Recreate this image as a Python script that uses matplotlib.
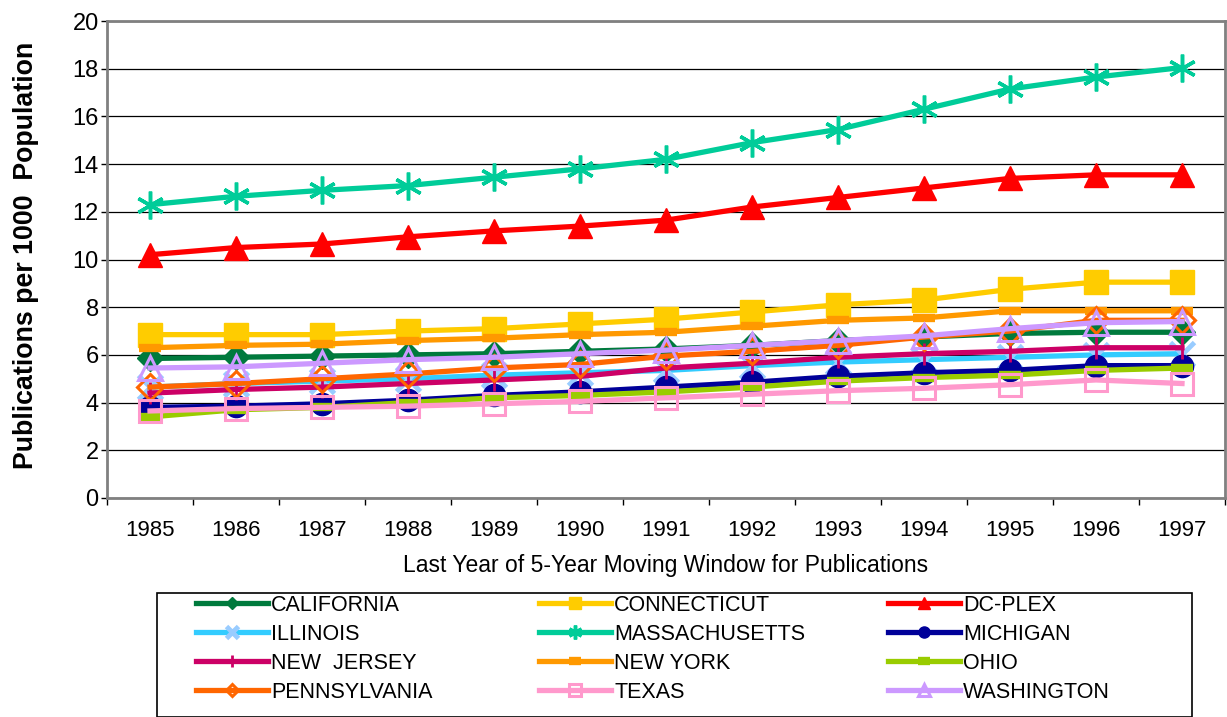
import matplotlib
matplotlib.use("Agg")
import matplotlib.pyplot as plt
from matplotlib.patches import Rectangle

plt.rcParams['font.family'] = ['Liberation Sans', 'DejaVu Sans']

# datos
years = list(range(1985, 1998))

california = [5.85, 5.9, 5.95, 6.0, 6.05, 6.15, 6.25, 6.4, 6.6, 6.75, 6.9, 6.95, 6.95]
connecticut = [6.85, 6.85, 6.85, 7.0, 7.1, 7.3, 7.5, 7.8, 8.1, 8.3, 8.75, 9.05, 9.05]
dc_plex = [10.2, 10.5, 10.65, 10.95, 11.2, 11.4, 11.65, 12.2, 12.6, 13.0, 13.4, 13.55, 13.55]
illinois = [4.65, 4.8, 4.9, 5.0, 5.15, 5.25, 5.35, 5.55, 5.7, 5.8, 5.9, 6.0, 6.05]
massachusetts = [12.3, 12.65, 12.9, 13.1, 13.45, 13.8, 14.2, 14.9, 15.45, 16.3, 17.15, 17.65, 18.05]
michigan = [3.8, 3.85, 3.95, 4.1, 4.3, 4.45, 4.65, 4.85, 5.1, 5.25, 5.35, 5.55, 5.55]
new_jersey = [4.4, 4.55, 4.65, 4.8, 4.95, 5.1, 5.45, 5.65, 5.9, 6.05, 6.15, 6.3, 6.3]
new_york = [6.3, 6.4, 6.45, 6.6, 6.7, 6.85, 6.95, 7.2, 7.45, 7.55, 7.85, 7.85, 7.85]
ohio = [3.4, 3.7, 3.8, 4.0, 4.2, 4.3, 4.45, 4.65, 4.9, 5.05, 5.15, 5.35, 5.45]
pennsylvania = [4.65, 4.8, 5.0, 5.2, 5.45, 5.6, 5.95, 6.15, 6.4, 6.75, 7.0, 7.45, 7.45]
texas = [3.65, 3.75, 3.8, 3.85, 3.95, 4.05, 4.2, 4.35, 4.5, 4.6, 4.75, 4.95, 4.8]
washington = [5.45, 5.5, 5.65, 5.8, 5.9, 6.05, 6.2, 6.4, 6.6, 6.8, 7.1, 7.35, 7.4]

names = ["CALIFORNIA", "CONNECTICUT", "DC-PLEX", "ILLINOIS", "MASSACHUSETTS", "MICHIGAN",
         "NEW  JERSEY", "NEW YORK", "OHIO", "PENNSYLVANIA", "TEXAS", "WASHINGTON"]
series = [california, connecticut, dc_plex, illinois, massachusetts, michigan,
          new_jersey, new_york, ohio, pennsylvania, texas, washington]

# estilo de cada serie: color, marcador, tamano, relleno, grosor borde
styles = [
    ('#007A3D', 'D', 13, None, 1.0),
    ('#FFCC00', 's', 17, None, 1.0),
    ('#FF0000', '^', 17, None, 1.0),
    ('#33CCFF', 'x', 17, None, 3.5),
    ('#00CC99', (6, 2, 0), 20, None, 2.5),
    ('#000099', 'o', 16, None, 1.0),
    ('#CC0066', '|', 16, None, 2.0),
    ('#FF9900', '_', 16, None, 6.0),
    ('#99CC00', '_', 16, None, 6.0),
    ('#FF6600', 'D', 13, 'none', 2.2),
    ('#FF99CC', 's', 16, 'none', 2.2),
    ('#CC99FF', '^', 17, 'none', 2.2),
]

W, H = 1227, 717
fig = plt.figure(figsize=(W / 100, H / 100), dpi=100)
ax = fig.add_axes([107 / W, 1 - 498 / H, 1118 / W, 477 / H])

handles = []
for name, vals, (col, mk, ms, mfc, mew) in zip(names, series, styles):
    mec = '#99CCFF' if name == "ILLINOIS" else col
    ln, = ax.plot(years, vals, color=col, lw=3.8, marker=mk, markersize=ms,
                  markerfacecolor=mfc if mfc else col, markeredgecolor=mec,
                  markeredgewidth=mew, clip_on=False)
    handles.append(ln)

ax.set_xlim(1984.5, 1997.5)
ax.set_ylim(0, 20)
ax.set_yticks(range(0, 21, 2))
ax.set_xticks(years)
ax.set_xticks([y - 0.5 for y in years] + [1997.5], minor=True)
ax.tick_params(axis='x', which='major', length=0, pad=16, labelsize=16)
ax.tick_params(axis='x', which='minor', length=5, width=1, color='black', direction='out')
ax.tick_params(axis='y', length=4, width=1, pad=2, labelsize=17)

ax.yaxis.grid(True, color='black', lw=0.9)
ax.set_axisbelow(True)
for s in ax.spines.values():
    s.set_color('#808080')
    s.set_linewidth(2)

ax.set_xlabel('Last Year of 5-Year Moving Window for Publications', fontsize=16.5, labelpad=9)
ax.set_ylabel('Publications per 1000  Population', fontsize=19.3, fontweight='bold')
ax.yaxis.set_label_coords(-0.061, 0.509)

# leyenda: marco aparte y tres columnas colocadas a mano
fig.add_artist(Rectangle((157 / W, 0), (1192 - 157) / W, (717 - 593) / H,
                         transform=fig.transFigure, fill=False, edgecolor='black', lw=1.2))
col_x = [196, 539, 888]
for c in range(3):
    hs = handles[c::3]
    labs = names[c::3]
    leg = fig.legend(hs, labs, loc='upper left', bbox_to_anchor=(col_x[c] / W, 1 - 595 / H),
                     frameon=False, fontsize=15.5, numpoints=1, markerscale=0.5,
                     handlelength=3.35, handletextpad=0.15, labelspacing=0.37,
                     borderpad=0, borderaxespad=0)

fig.savefig('out.png', dpi=100)
